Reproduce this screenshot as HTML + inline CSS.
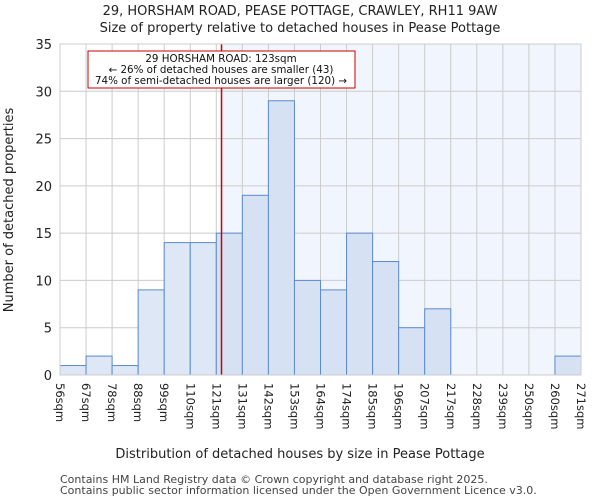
<!DOCTYPE html>
<html><head><meta charset="utf-8"><style>
body{margin:0;background:#fff;font-family:"DejaVu Sans","Liberation Sans",sans-serif;}
</style></head><body>
<svg width="600" height="500" xmlns="http://www.w3.org/2000/svg" font-family="DejaVu Sans, Liberation Sans, sans-serif">
<g id="chart"></g>
</svg>
<script>
const categories=["56sqm","67sqm","78sqm","88sqm","99sqm","110sqm","121sqm","131sqm","142sqm","153sqm","164sqm","174sqm","185sqm","196sqm","207sqm","217sqm","228sqm","239sqm","250sqm","260sqm","271sqm"];
const counts=[1,2,1,9,14,14,15,19,29,10,9,15,12,5,7,0,0,0,0,2];
const yTicks=[0,5,10,15,20,25,30,35];
const markerBin=6.2;
const X0=60,X1=581,Y0=375,Y1=44,YMAX=35;
const bw=(X1-X0)/counts.length;
const xs=i=>X0+i*bw;
const ys=v=>Y0-(Y0-Y1)*v/YMAX;
const g=document.getElementById('chart');
const NS='http://www.w3.org/2000/svg';
function mk(t,a,txt){const e=document.createElementNS(NS,t);for(const k in a)e.setAttribute(k,a[k]);if(txt!=null)e.textContent=txt;g.appendChild(e);return e;}
const mx=xs(markerBin);
let e=mk('rect',{x:mx,y:Y1,width:X1-mx,height:Y0-Y1,fill:'#f1f5fd'});


for(let i=0;i<=counts.length;i++){e=mk('line',{x1:xs(i),x2:xs(i),y1:Y1,y2:Y0,stroke:'#cccccc'});

}
yTicks.forEach(t=>{e=mk('line',{x1:X0,x2:X1,y1:ys(t),y2:ys(t),stroke:'#cccccc'});


e=mk('text',{x:X0-8,y:ys(t)+5,'text-anchor':'end','font-size':13,fill:'#222'},t);

});
counts.forEach((v,i)=>{e=mk('rect',{x:xs(i),y:ys(v),width:bw,height:Y0-ys(v),fill:i<6?'#dde7f5':'#d6e2f3',stroke:'#5b8bd0','stroke-width':1});

});
categories.forEach((c,i)=>{const x=xs(i)-4,y=Y0+8;e=mk('text',{x:x,y:y,transform:`rotate(90 ${x} ${y})`,'font-size':11.5,fill:'#222'},c);

});
e=mk('line',{x1:mx,x2:mx,y1:Y1,y2:Y0,stroke:'#cc0000','stroke-width':1.5});


e=mk('rect',{x:88,y:51,width:267,height:37,fill:'#fff',stroke:'#cc0000'});


[["29 HORSHAM ROAD: 123sqm",62],["← 26% of detached houses are smaller (43)",73],["74% of semi-detached houses are larger (120) →",84]].forEach(([t,y])=>{e=mk('text',{x:221,y:y,'text-anchor':'middle','font-size':10.3,fill:'#111'},t);

});
e=mk('rect',{x:X0,y:Y1,width:X1-X0,height:Y0-Y1,fill:'none',stroke:'#ccc'});


e=mk('text',{x:300,y:15,'text-anchor':'middle','font-size':13,fill:'#222'},"29, HORSHAM ROAD, PEASE POTTAGE, CRAWLEY, RH11 9AW");


e=mk('text',{x:300,y:32,'text-anchor':'middle','font-size':13,fill:'#222'},"Size of property relative to detached houses in Pease Pottage");


e=mk('text',{x:300,y:458,'text-anchor':'middle','font-size':13,fill:'#222'},"Distribution of detached houses by size in Pease Pottage");


e=mk('text',{x:13,y:210,'text-anchor':'middle','font-size':13,fill:'#222',transform:'rotate(-90 13 210)'},"Number of detached properties");


e=mk('text',{x:60,y:483,'font-size':11,fill:'#444'},"Contains HM Land Registry data © Crown copyright and database right 2025.");


e=mk('text',{x:60,y:494,'font-size':11,fill:'#444'},"Contains public sector information licensed under the Open Government Licence v3.0.");


</script>
</body></html>
